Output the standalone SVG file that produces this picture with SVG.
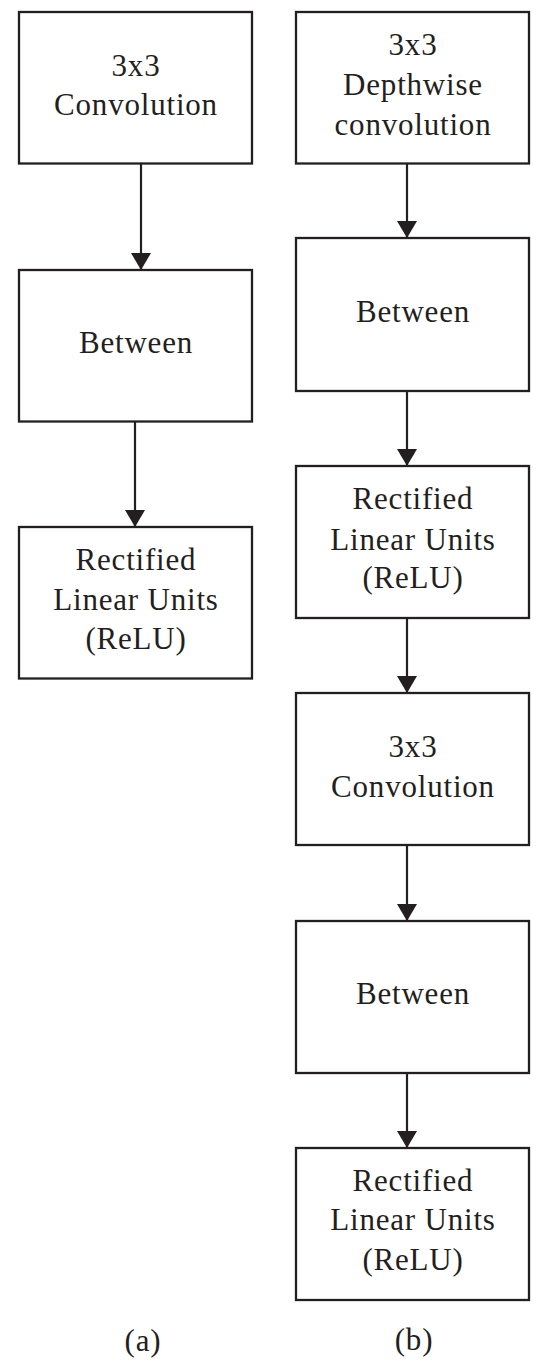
<svg xmlns="http://www.w3.org/2000/svg" width="558" height="1371" viewBox="0 0 558 1371">
<style>
.box{fill:#fff;stroke:#231f20;stroke-width:2.3}
.t{font-family:"Liberation Serif","Times New Roman",serif;font-size:31px;fill:#231f20;text-anchor:middle;letter-spacing:0.8px}
.c{stroke:#231f20;stroke-width:2.2;fill:none}
</style>
<defs>
<marker id="ah" markerUnits="userSpaceOnUse" viewBox="0 -10 17 20" refX="17" refY="0" markerWidth="17" markerHeight="20" orient="auto">
<path d="M0,-10 L17,0 L0,10 Z" fill="#231f20"/>
</marker>
</defs>
<rect width="558" height="1371" fill="#fff"/>
<g id="connectors">
<line class="c" x1="141" y1="164" x2="141" y2="270" marker-end="url(#ah)"/>
<line class="c" x1="135" y1="422" x2="135" y2="527" marker-end="url(#ah)"/>
<line class="c" x1="407" y1="164" x2="407" y2="238" marker-end="url(#ah)"/>
<line class="c" x1="407" y1="391" x2="407" y2="466" marker-end="url(#ah)"/>
<line class="c" x1="407" y1="618" x2="407" y2="693" marker-end="url(#ah)"/>
<line class="c" x1="407" y1="845" x2="407" y2="921" marker-end="url(#ah)"/>
<line class="c" x1="407" y1="1073" x2="407" y2="1148" marker-end="url(#ah)"/>
</g>
<g id="a1"><rect class="box" x="19" y="12" width="233" height="151.5"/>
<text class="t" x="136" y="76">3x3</text><text class="t" x="136" y="115">Convolution</text></g>
<g id="a2"><rect class="box" x="19" y="270" width="233" height="151.5"/>
<text class="t" x="136" y="353">Between</text></g>
<g id="a3"><rect class="box" x="19" y="527" width="233" height="151.5"/>
<text class="t" x="136" y="570">Rectified</text><text class="t" x="136" y="610">Linear Units</text><text class="t" x="136" y="649">(ReLU)</text></g>
<g id="b1"><rect class="box" x="296" y="12" width="233" height="151.5"/>
<text class="t" x="413" y="55">3x3</text><text class="t" x="413" y="95">Depthwise</text><text class="t" x="413" y="135">convolution</text></g>
<g id="b2"><rect class="box" x="296" y="238" width="233" height="153"/>
<text class="t" x="413" y="322">Between</text></g>
<g id="b3"><rect class="box" x="296" y="466" width="233" height="152"/>
<text class="t" x="413" y="509">Rectified</text><text class="t" x="413" y="550">Linear Units</text><text class="t" x="413" y="588">(ReLU)</text></g>
<g id="b4"><rect class="box" x="296" y="693" width="233" height="152"/>
<text class="t" x="413" y="757">3x3</text><text class="t" x="413" y="797">Convolution</text></g>
<g id="b5"><rect class="box" x="296" y="921" width="233" height="152"/>
<text class="t" x="413" y="1004">Between</text></g>
<g id="b6"><rect class="box" x="296" y="1148" width="233" height="152"/>
<text class="t" x="413" y="1191">Rectified</text><text class="t" x="413" y="1230">Linear Units</text><text class="t" x="413" y="1270">(ReLU)</text></g>
<g id="labels">
<text class="t" x="143" y="1351">(a)</text>
<text class="t" x="414" y="1350">(b)</text>
</g>
</svg>
